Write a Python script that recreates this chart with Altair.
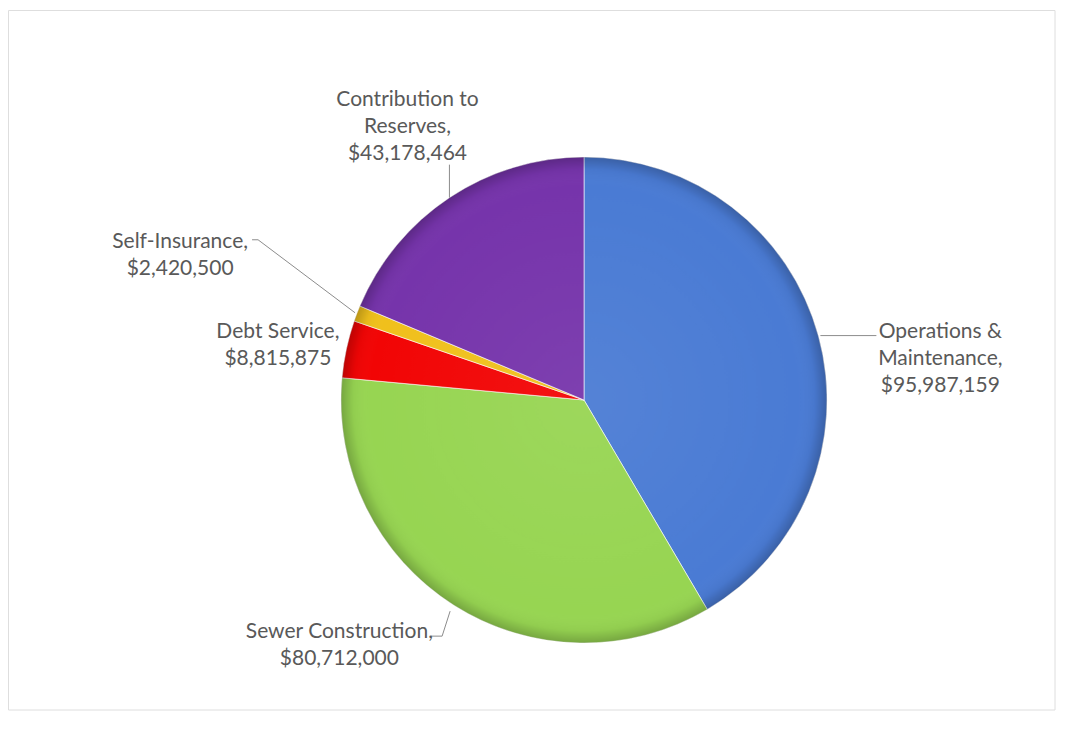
import math
import altair as alt
import pandas as pd

# ---- data ----
categories = [
    "Operations & Maintenance",
    "Sewer Construction",
    "Debt Service",
    "Self-Insurance",
    "Contribution to Reserves",
]
amounts = [95987159, 80712000, 8815875, 2420500, 43178464]
label_texts = [
    "Operations &\nMaintenance,\n$95,987,159",
    "Sewer Construction,\n$80,712,000",
    "Debt Service,\n$8,815,875",
    "Self-Insurance,\n$2,420,500",
    "Contribution to\nReserves,\n$43,178,464",
]
colors = ["#4a7bd4", "#97d552", "#f20505", "#f0c01c", "#7634ab"]

df = pd.DataFrame({
    "category": categories,
    "amount": amounts,
    "order": list(range(len(categories))),
    "label": label_texts,
})

# ---- layout ----
W, H = 1071, 721
CX, CY, R = 576, 392, 243
FONT = "Lato"
FS = 21
LH = 27
TXT = "#595959"
ang = alt.Scale(domain=[0, 1], range=[0, 2 * math.pi])

# label placement: radius along slice mid-angle + nudge
label_layout = {
    "Operations & Maintenance": (360, 9, 54),
    "Sewer Construction": (300, -84, -8),
    "Debt Service": (310, -3, 11),
    "Self-Insurance": (429, -3, 8),
    "Contribution to Reserves": (326, 4, -2),
}
# leader lines: start radius on mid-angle, then relative segments
leader_layout = {
    "Operations & Maintenance": (245, [(56, 0)]),
    "Sewer Construction": (250, [(-8, 25), (-11, 0)]),
    "Self-Insurance": (245, [(-97, -73), (-6, 0)]),
    "Contribution to Reserves": (243, [(0, -33)]),
}

base = (
    alt.Chart(df)
    .transform_joinaggregate(total="sum(amount)")
    .transform_window(cum="sum(amount)", sort=[alt.SortField("order")], frame=[None, 0])
    .transform_calculate(
        f0="(datum.cum - datum.amount) / datum.total",
        f1="datum.cum / datum.total",
        mid="(datum.cum - datum.amount / 2) / datum.total",
    )
)

frame = alt.Chart(pd.DataFrame({"k": [0]})).mark_rect(
    fillOpacity=0, stroke="#dedede", strokeWidth=1
).encode(x=alt.value(0.5), x2=alt.value(1047), y=alt.value(2.5), y2=alt.value(702))

pie = base.mark_arc(radius=R, stroke="#ffffff", strokeWidth=0.6).encode(
    theta=alt.Theta("f0:Q", scale=ang),
    theta2="f1:Q",
    color=alt.Color("category:N", scale=alt.Scale(domain=categories, range=colors), legend=None),
    x=alt.value(CX),
    y=alt.value(CY),
)

rim = alt.Chart(pd.DataFrame({"k": [0]})).mark_arc(
    radius=R, theta=0, theta2=2 * math.pi,
    fill={
        "gradient": "radial",
        "x1": 0.5, "y1": 0.5, "x2": 0.5, "y2": 0.5, "r1": 0, "r2": 0.5,
        "stops": [
            {"offset": 0.0, "color": "rgba(255,255,255,0.06)"},
            {"offset": 0.88, "color": "rgba(255,255,255,0)"},
            {"offset": 0.95, "color": "rgba(0,0,0,0.04)"},
            {"offset": 1.0, "color": "rgba(0,0,0,0.22)"},
        ],
    },
).encode(x=alt.value(CX), y=alt.value(CY))

layers = [frame, pie, rim]

for cat, (r0, segs) in leader_layout.items():
    calc = {
        "sx": f"{CX} + {r0} * sin(2 * PI * datum.mid)",
        "sy": f"{CY} - {r0} * cos(2 * PI * datum.mid)",
    }
    cx_acc, cy_acc = 0, 0
    for ddx, ddy in segs:
        sxe = f"datum.sx + {cx_acc}"
        sye = f"datum.sy + {cy_acc}"
        cx_acc += ddx
        cy_acc += ddy
        exe = f"datum.sx + {cx_acc}"
        eye = f"datum.sy + {cy_acc}"
        seg = (
            base.transform_filter(alt.datum.category == cat)
            .transform_calculate(**calc)
            .transform_calculate(ax=sxe, ay=sye, bx=exe, by=eye)
            .mark_rule(color="#8c8c8c", strokeWidth=1)
            .encode(
                x=alt.X("ax:Q", scale=None, axis=None),
                y=alt.Y("ay:Q", scale=None, axis=None),
                x2="bx:Q",
                y2="by:Q",
            )
        )
        layers.append(seg)

for (cat, (rr, ddx, ddy)), text in zip(label_layout.items(), label_texts):
    n_lines = text.count("\n") + 1
    txt = (
        base.transform_filter(alt.datum.category == cat)
        .mark_text(
            radius=rr, dx=ddx, dy=ddy - (n_lines - 1) * LH / 2,
            align="center", baseline="middle",
            lineBreak="\n", font=FONT, fontSize=FS, lineHeight=LH, color=TXT,
        )
        .encode(
            theta=alt.Theta("mid:Q", scale=ang),
            text="label:N",
            x=alt.value(CX),
            y=alt.value(CY),
        )
    )
    layers.append(txt)

chart = (
    alt.layer(*layers)
    .properties(width=W, height=H, autosize=alt.AutoSizeParams(type="none"), padding=0, background="#ffffff")
    .configure_view(stroke=None)
)

chart.save("out.html", embed_options={"renderer": "svg", "actions": False})
